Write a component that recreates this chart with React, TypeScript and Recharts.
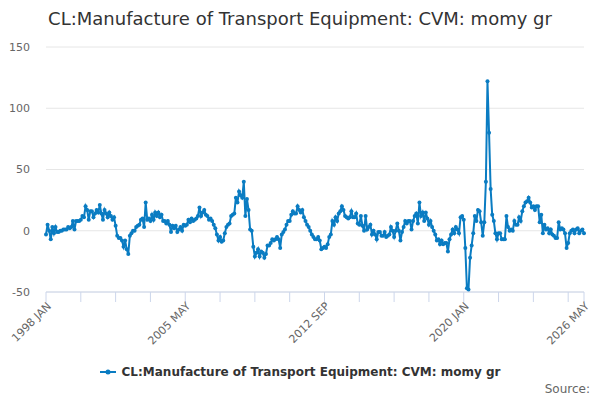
import React from 'react';
import { LineChart, Line, XAxis, YAxis, CartesianGrid } from 'recharts';

const seriesName = 'CL:Manufacture of Transport Equipment: CVM: momy gr';
const startYear = 1998;
const monthNames = ['JAN', 'FEB', 'MAR', 'APR', 'MAY', 'JUN', 'JUL', 'AUG', 'SEP', 'OCT', 'NOV', 'DEC'];

// monthly values, 1998 JAN .. 2026 MAY
const momyGr = [
  -3, 5, 0, -7, 3, -2, 3, -1, -1, 0, 0, 1,
  1, 1, 3, 2, 3, 8, 1, 8, 8, 8, 9, 12,
  11, 20, 17, 9, 16, 16, 11, 14, 17, 15, 21, 14,
  9, 17, 14, 11, 15, 12, 9, 11, 4, -4, -6, -6,
  -8, -13, -8, -15, -19, -4, -2, 0, 0, 3, 4, 5,
  9, 10, 3, 23, 9, 10, 8, 13, 9, 15, 12, 15,
  11, 13, 8, 8, 6, 8, 5, -1, 4, 2, 4, -1,
  1, 3, 0, 5, 4, 5, 9, 7, 10, 8, 9, 10,
  12, 19, 12, 15, 17, 13, 12, 9, 10, 8, 5, 2,
  -3, -8, -5, -9, -8, -2, 3, 5, 6, 12, 13, 14,
  27, 23, 32, 29, 27, 40, 12, 26, 17, 1, 0, -13,
  -21, -18, -15, -21, -17, -18, -22, -19, -12, -12, -10, -7,
  -8, -7, -5, -7, -14, -3, -1, 1, 5, 8, 8, 13,
  16, 14, 14, 20, 17, 15, 17, 11, 8, 5, 3, 0,
  -3, -5, -7, -7, -5, -8, -15, -14, -13, -14, -11, -5,
  -3, 8, 5, 11, 8, 14, 16, 20, 17, 12, 11, 10,
  11, 16, 11, 11, 14, 6, 5, 12, 4, 0, 12, 1,
  3, 5, -3, 0, -3, -7, -1, -1, -4, -4, -1, -5,
  -4, -3, 3, 0, -5, 0, 6, 0, -8, -1, 3, 8,
  6, 8, 8, 1, 8, 12, 14, 6, 23, 12, 15, 8,
  15, 10, 5, 8, 3, 0, -3, -8, -7, -11, -8, -11,
  -10, -10, -17, -7, -3, 1, -2, 3, 1, -2, 11, 12,
  9, -14, -47, -48, -22, -12, -2, 12, 8, 17, 16, 7,
  -4, 7, 40, 122, 80, 34, 13, 8, -2, -7, -2, -2,
  -7, -7, -7, 12, 3, 0, 1, 0, 8, 5, 5, 11,
  8, 16, 20, 23, 24, 27, 23, 19, 20, 17, 20, 20,
  7, 13, -2, 5, 1, 2, -2, 1, -3, -4, -6, -6,
  7, 1, 2, 1, -2, -14, -10, -2, 0, 1, -2, 1,
  2, -2, 0, 1, -2,
];

const yTicks = [-50, 0, 50, 100, 150];
// tick marks every 22 months, plus the last month
const xTicks = [0, 22, 44, 66, 88, 110, 132, 154, 176, 198, 220, 242, 264, 286, 308, 330, 340];
const xLabelled = [0, 88, 176, 264, 340];

const monthLabel = (i: number) => `${startYear + Math.floor(i / 12)} ${monthNames[i % 12]}`;

const data = momyGr.map((v, i) => ({ i, month: monthLabel(i), v }));

const BLUE = '#0a7cc2';
const FONT = '"DejaVu Sans", sans-serif';

const XTick = ({ x, y, payload }: any) => {
  if (!xLabelled.includes(payload.value)) return <g />;
  return (
    <text
      x={x + 3}
      y={y}
      dy={4}
      transform={`rotate(-45 ${x + 3} ${y})`}
      textAnchor="end"
      fill="#666"
      fontSize={11}
      fontFamily={FONT}
    >
      {monthLabel(payload.value)}
    </text>
  );
};

export default function App() {
  return (
    <div style={{ position: 'fixed', top: 0, left: 0, width: 600, height: 400, background: '#fff', fontFamily: FONT }}>
      <div style={{ position: 'absolute', top: 8, left: 0, width: 600, textAlign: 'center', fontSize: 18, color: '#333' }}>
        {seriesName}
      </div>
      <LineChart width={600} height={400} data={data} margin={{ top: 47, right: 16, bottom: 78, left: 0 }}>
        <CartesianGrid vertical={false} stroke="#e6e6e6" />
        <XAxis
          dataKey="i"
          type="number"
          domain={[0, 340]}
          ticks={xTicks}
          interval={0}
          height={30}
          stroke="#ccd6eb"
          tickSize={10}
          tick={<XTick />}
        />
        <YAxis
          type="number"
          domain={[-50, 150]}
          ticks={yTicks}
          width={46}
          axisLine={false}
          tickLine={false}
          tickMargin={10}
          tick={{ fill: '#666', fontSize: 11, fontFamily: FONT }}
        />
        <Line
          type="linear"
          dataKey="v"
          name={seriesName}
          stroke={BLUE}
          strokeWidth={2}
          dot={{ r: 2, fill: BLUE, stroke: BLUE, strokeWidth: 0 }}
          isAnimationActive={false}
        />
      </LineChart>
      <div style={{ position: 'absolute', top: 365, left: 0, width: 600, display: 'flex', justifyContent: 'center', alignItems: 'center' }}>
        <svg width={18} height={10} style={{ marginRight: 4 }}>
          <line x1={0} y1={5} x2={16} y2={5} stroke={BLUE} strokeWidth={2} />
          <circle cx={8} cy={5} r={2.5} fill={BLUE} />
        </svg>
        <span style={{ fontSize: 12, fontWeight: 'bold', color: '#333' }}>{seriesName}</span>
      </div>
      <div style={{ position: 'absolute', top: 382, right: 10, fontSize: 12, color: '#666' }}>Source:</div>
    </div>
  );
}
